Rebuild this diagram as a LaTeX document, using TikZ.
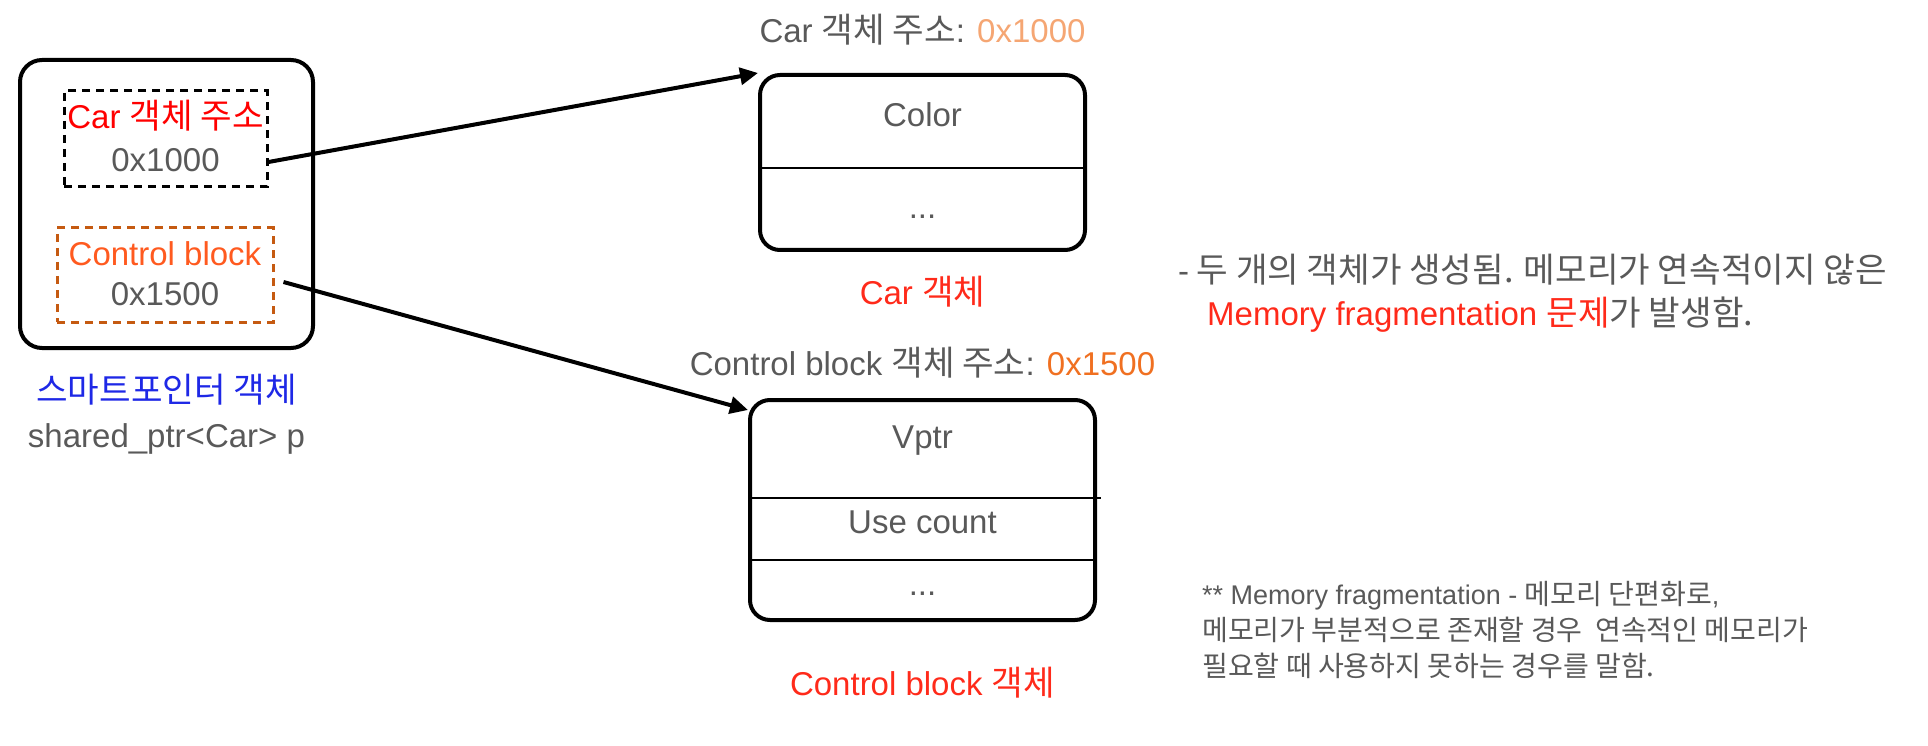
\documentclass[tikz,border=0pt]{standalone}
\usepackage{fontspec}
\setmainfont{Liberation Sans}
\newfontfamily\krfont[Scale=1.04]{Noto Sans CJK KR}
\usetikzlibrary{positioning,arrows.meta}
\definecolor{txtgray}{HTML}{595959}
\definecolor{carred}{HTML}{FF0000}
\definecolor{objred}{HTML}{FF2A1A}
\definecolor{ctrltxt}{HTML}{FF5A1F}
\definecolor{ctrlline}{HTML}{C55A11}
\definecolor{addrone}{HTML}{F5A673}
\definecolor{addrtwo}{HTML}{F07021}
\definecolor{spblue}{HTML}{1E28E6}

\begin{document}
\begin{tikzpicture}[x=1pt,y=-1pt,
    obj box/.style={draw,line width=4pt,rounded corners=20pt},
    ref box/.style={draw,line width=3pt,dash pattern=on 8pt off 6pt},
    divider/.style={line width=1.7pt},
    lbl/.style={font=\fontsize{33}{40}\selectfont,text=txtgray,inner sep=0pt},
    note/.style={font=\fontsize{27}{32}\selectfont,text=txtgray,inner sep=0pt,anchor=base west},
    ptr/.style={line width=4pt,-{Triangle[length=18pt,width=17pt]}}]
\useasboundingbox (0,0) rectangle (1928,746);
% smart pointer object
\node[obj box,rounded corners=22pt,minimum width=293pt,minimum height=288pt] (sp) at (166.5,204) {};
\node[ref box,minimum width=203pt,minimum height=96pt] (carref) at (165.5,139) {};
\node[ref box,draw=ctrlline,minimum width=216pt,minimum height=94pt] (ctrlref) at (165,275) {};
\node[lbl,text=carred] (carreftxt) [below=39pt of carref.north,anchor=base] {Car {\krfont 객체 주소}};
\node[lbl] (caraddr) [below=82pt of carref.north,anchor=base] {0x1000};
\node[lbl,text=ctrltxt] (ctrlreftxt) [below=39pt of ctrlref.north,anchor=base] {Control block};
\node[lbl] (ctrladdr) [below=79pt of ctrlref.north,anchor=base] {0x1500};
\node[lbl,text=spblue] (splbl) [below=52pt of sp.south,anchor=base] {\krfont 스마트포인터 객체};
\node[lbl] (sptype) [below=45pt of splbl.base,anchor=base] {shared\_ptr<Car> p};
% Car object
\node[obj box,minimum width=325pt,minimum height=175pt] (car) at (922.5,162.5) {};
\draw[divider] (car.west |- 0,168) -- (car.east |- 0,168);
\node[lbl] (cartitle) [above=30pt of car.north,anchor=base] {Car {\krfont 객체 주소}: \textcolor{addrone}{0x1000}};
\node[lbl] (color) [below=54pt of car.north,anchor=base] {Color};
\node[lbl] (cardots) [above=33pt of car.south,anchor=base] {...};
\node[lbl,text=objred] (carlbl) [below=52pt of car.south,anchor=base] {Car {\krfont 객체}};
% Control block object
\node[obj box,minimum width=345pt,minimum height=220pt] (cb) at (922.5,510) {};
\draw[divider] (cb.west |- 0,498) -- ([xshift=4pt]cb.east |- 0,498);
\draw[divider] (cb.west |- 0,560) -- (cb.east |- 0,560);
\node[lbl] (cbtitle) [above=23pt of cb.north,anchor=base] {Control block {\krfont 객체 주소}: \textcolor{addrtwo}{0x1500}};
\node[lbl] (vptr) [below=50pt of cb.north,anchor=base] {Vptr};
\node[lbl] (usecnt) [below=135pt of cb.north,anchor=base] {Use count};
\node[lbl] (cbdots) [above=27pt of cb.south,anchor=base] {...};
\node[lbl,text=objred] (cblbl) [below=73pt of cb.south,anchor=base] {Control block {\krfont 객체}};
% pointers
\draw[ptr] ([yshift=-23pt]carref.east) -- (car.north west);
\draw[ptr] ([xshift=9pt,yshift=-7pt]ctrlref.east) -- ([yshift=-12pt]cb.north west);
% remarks
\node[lbl,anchor=base west] (rem1) at (1178,282) {-{\krfont\ 두 개의 객체가 생성됨. 메모리가 연속적이지 않은}};
\node[lbl,anchor=base west] (rem2) at (1207,325) {\textcolor{objred}{Memory fragmentation {\krfont 문제}}{\krfont 가 발생함.}};
\node[note] (note1) at (1202,604) {** Memory fragmentation - {\krfont 메모리 단편화로},};
\node[note] (note2) at (1202,640) {\krfont 메모리가 부분적으로 존재할 경우\ \ 연속적인 메모리가};
\node[note] (note3) at (1202,676) {\krfont 필요할 때 사용하지 못하는 경우를 말함.};
\end{tikzpicture}
\end{document}
